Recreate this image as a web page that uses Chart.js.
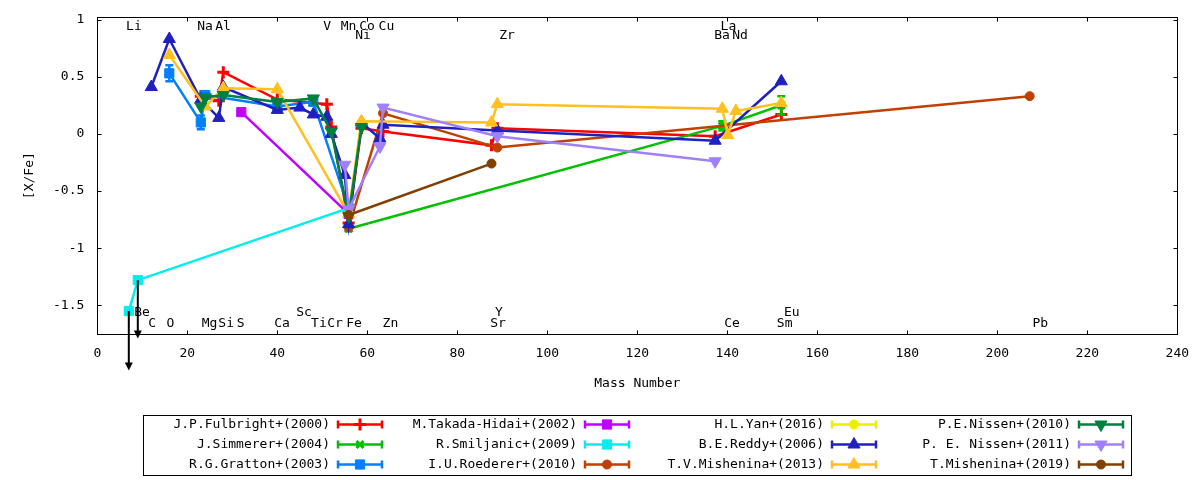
<!DOCTYPE html>
<html>
<head>
<meta charset="utf-8">
<script src="https://cdn.jsdelivr.net/npm/chart.js@4.4.1/dist/chart.umd.min.js"></script>
<style>
  html, body { margin: 0; padding: 0; background: #fff; }
  #wrap { width: 1200px; height: 480px; }
</style>
</head>
<body>
<div id="wrap"><canvas id="chart" width="1200" height="480"></canvas></div>
<script>
// [X/Fe] against mass number, compiled from several papers
const xTicks = [0, 20, 40, 60, 80, 100, 120, 140, 160, 180, 200, 220, 240]
const yTicks = [-1.5, -1, -0.5, 0, 0.5, 1]

// element labels (gnuplot "set label" style)
const elemNames = ['Li', 'Na', 'Al', 'V', 'Mn', 'Co', 'Cu', 'Ni', 'Zr', 'La', 'Ba', 'Nd',
  'Be', 'C', 'O', 'Mg', 'Si', 'S', 'Ca', 'Sc', 'Ti', 'Cr', 'Fe', 'Zn', 'Y', 'Sr', 'Ce', 'Eu', 'Sm', 'Pb']
const elemX = [6.4, 22.2, 26.2, 50.2, 54.1, 58.2, 62.5, 57.3, 89.3, 138.5, 137.1, 141.1,
  8.2, 11.3, 15.4, 23.2, 26.9, 31.0, 39.3, 44.2, 47.5, 51.1, 55.3, 63.4, 88.4, 87.3, 139.3, 152.6, 151.0, 207.8]
const elemY = [0.94, 0.94, 0.94, 0.94, 0.94, 0.94, 0.94, 0.86, 0.86, 0.94, 0.86, 0.86,
  -1.56, -1.66, -1.66, -1.66, -1.66, -1.66, -1.66, -1.56, -1.66, -1.66, -1.66, -1.66, -1.56, -1.66, -1.66, -1.56, -1.66, -1.66]

// upper limits (Li, Be)
const limitX = [7, 9]
const limitFrom = [-1.55, -1.28]
const limitTo = [-2.07, -1.79]

const fulbrightX = [23, 27, 28, 40, 51, 52, 55.85, 58.7, 63.5, 87.6, 88.9, 137.3, 152]
const fulbrightY = [0.33, 0.29, 0.54, 0.30, 0.26, 0.06, -0.78, 0.05, 0.02, -0.10, 0.05, -0.02, 0.17]

const simmererX = [55.85, 138.9, 152]
const simmererY = [-0.83, 0.07, 0.25]
const simmererErr = [0.02, 0.04, 0.08]

const grattonX = [16, 23, 24, 40, 48, 55.85]
const grattonY = [0.53, 0.10, 0.34, 0.24, 0.28, -0.65]
const grattonErr = [0.07, 0.06, 0.03, 0.02, 0.03, 0.02]

const takadaX = [32, 55.85]
const takadaY = [0.19, -0.70]

const smiljanicX = [7, 9, 55.85]
const smiljanicY = [-1.55, -1.28, -0.65]

const roedererX = [55.85, 63.5, 88.9, 207.2]
const roedererY = [-0.82, 0.18, -0.12, 0.33]

const yanX = [55.85, 58.7]
const yanY = [-0.70, 0.10]

const reddyX = [12, 16, 23, 27, 28, 40, 45, 48, 51, 52, 55, 55.85, 58.7, 62.8, 63.5, 88.9, 137.3, 152]
const reddyY = [0.41, 0.83, 0.30, 0.14, 0.41, 0.21, 0.23, 0.17, 0.15, 0.00, -0.36, -0.79, 0.10, -0.04, 0.08, 0.03, -0.06, 0.46]

const mish13X = [16, 24, 28, 40, 55.85, 58.7, 87.6, 88.9, 138.9, 140.1, 141.9, 152]
const mish13Y = [0.69, 0.24, 0.40, 0.39, -0.70, 0.11, 0.10, 0.26, 0.22, -0.01, 0.20, 0.27]

const nissen10X = [23, 24, 28, 40, 48, 52, 55.85, 58.7]
const nissen10Y = [0.24, 0.32, 0.34, 0.28, 0.31, 0.02, -0.72, 0.06]

const nissen11X = [55, 55.85, 62.8, 63.5, 88.9, 137.3]
const nissen11Y = [-0.27, -0.66, -0.11, 0.23, -0.02, -0.24]

const mish19X = [55.85, 87.6]
const mish19Y = [-0.71, -0.26]

const FONT = '13px "DejaVu Sans Mono"'

// legend is column-major, same order as gnuplot
const series = [
  { label: 'J.P.Fulbright+(2000)', color: '#ff0000', style: 'cross', r: 6, bw: 3, x: fulbrightX, y: fulbrightY },
  { label: 'J.Simmerer+(2004)', color: '#00c000', style: 'crossRot', r: 5, bw: 3, x: simmererX, y: simmererY, err: simmererErr },
  { label: 'R.G.Gratton+(2003)', color: '#0080ff', style: 'rect', r: 6.5, bw: 1, x: grattonX, y: grattonY, err: grattonErr },
  { label: 'M.Takada-Hidai+(2002)', color: '#c000ff', style: 'rect', r: 6.5, bw: 1, x: takadaX, y: takadaY },
  { label: 'R.Smiljanic+(2009)', color: '#00eeee', style: 'rect', r: 6.5, bw: 1, x: smiljanicX, y: smiljanicY },
  { label: 'I.U.Roederer+(2010)', color: '#c04000', style: 'circle', r: 4.5, bw: 1, x: roedererX, y: roedererY },
  { label: 'H.L.Yan+(2016)', color: '#eeee00', style: 'circle', r: 4.5, bw: 1, x: yanX, y: yanY },
  { label: 'B.E.Reddy+(2006)', color: '#2020c0', style: 'triangle', r: 7, bw: 1, x: reddyX, y: reddyY },
  { label: 'T.V.Mishenina+(2013)', color: '#ffc020', style: 'triangle', r: 7, bw: 1, x: mish13X, y: mish13Y },
  { label: 'P.E.Nissen+(2010)', color: '#008040', style: 'triangle', r: 7, bw: 1, rot: 180, x: nissen10X, y: nissen10Y },
  { label: 'P. E. Nissen+(2011)', color: '#a080ff', style: 'triangle', r: 7, bw: 1, rot: 180, x: nissen11X, y: nissen11Y },
  { label: 'T.Mishenina+(2019)', color: '#804000', style: 'circle', r: 4.5, bw: 1, x: mish19X, y: mish19Y },
]

const datasets = series.map((s, i) => ({
  label: s.label,
  data: s.x.map((v, j) => ({ x: v, y: s.y[j] })),
  showLine: true,
  borderColor: s.color,
  backgroundColor: s.color,
  borderWidth: 2.5,
  pointStyle: s.style,
  pointRadius: s.r,
  pointRotation: s.rot || 0,
  pointBorderWidth: s.bw,
  pointBorderColor: s.color,
  pointBackgroundColor: s.color,
  order: series.length - 1 - i,
}))

function drawMarker(ctx, s, px, py) {
  ctx.fillStyle = s.color
  ctx.strokeStyle = s.color
  ctx.lineWidth = s.bw
  Chart.helpers.drawPoint(ctx, { pointStyle: s.style, radius: s.r, rotation: s.rot || 0, borderWidth: s.bw }, px, py)
}

const decor = {
  id: 'decor',
  beforeDatasetsDraw(chart) {
    const { ctx, scales: { x, y } } = chart
    ctx.save()
    ctx.font = FONT
    ctx.fillStyle = '#000'
    ctx.textAlign = 'left'
    ctx.textBaseline = 'middle'
    elemNames.forEach((n, i) => ctx.fillText(n, x.getPixelForValue(elemX[i]), y.getPixelForValue(elemY[i])))
    ctx.restore()
  },
  beforeDatasetDraw(chart, args) {
    const s = series[args.index]
    if (!s || !s.err) return
    const { ctx, scales: { x, y } } = chart
    ctx.save()
    ctx.strokeStyle = s.color
    ctx.lineWidth = 2.5
    s.x.forEach((v, j) => {
      const px = x.getPixelForValue(v)
      const y1 = y.getPixelForValue(s.y[j] - s.err[j])
      const y2 = y.getPixelForValue(s.y[j] + s.err[j])
      ctx.beginPath()
      ctx.moveTo(px, y1); ctx.lineTo(px, y2)
      ctx.moveTo(px - 4, y1); ctx.lineTo(px + 4, y1)
      ctx.moveTo(px - 4, y2); ctx.lineTo(px + 4, y2)
      ctx.stroke()
    })
    ctx.restore()
  },
  afterDatasetsDraw(chart) {
    const { ctx, chartArea: a, scales: { x, y } } = chart
    ctx.save()
    // border + inward mirrored tics
    ctx.strokeStyle = '#000'
    ctx.lineWidth = 1
    const L = Math.round(a.left) + 0.5, R = Math.round(a.right) + 0.5
    const T = Math.round(a.top) + 0.5, B = Math.round(a.bottom) + 0.5
    ctx.strokeRect(L, T, R - L, B - T)
    ctx.beginPath()
    xTicks.forEach(v => {
      const px = Math.round(x.getPixelForValue(v)) + 0.5
      ctx.moveTo(px, B); ctx.lineTo(px, B - 4)
      ctx.moveTo(px, T); ctx.lineTo(px, T + 4)
    })
    yTicks.forEach(v => {
      const py = Math.round(y.getPixelForValue(v)) + 0.5
      ctx.moveTo(L, py); ctx.lineTo(L + 4, py)
      ctx.moveTo(R, py); ctx.lineTo(R - 4, py)
    })
    ctx.stroke()

    // upper limit arrows
    ctx.fillStyle = '#000'
    ctx.lineWidth = 2
    limitX.forEach((v, i) => {
      const px = x.getPixelForValue(v)
      const y0 = y.getPixelForValue(limitFrom[i])
      const y1 = y.getPixelForValue(limitTo[i])
      ctx.beginPath()
      ctx.moveTo(px, y0); ctx.lineTo(px, y1 - 6)
      ctx.stroke()
      ctx.beginPath()
      ctx.moveTo(px, y1); ctx.lineTo(px - 4, y1 - 8); ctx.lineTo(px + 4, y1 - 8); ctx.closePath()
      ctx.fill()
    })
    ctx.restore()
  },
  afterDraw(chart) {
    const { ctx, chartArea: a } = chart
    ctx.save()
    ctx.font = FONT
    ctx.fillStyle = '#000'
    ctx.textBaseline = 'middle'
    ctx.textAlign = 'center'
    ctx.fillText('Mass Number', (a.left + a.right) / 2, a.bottom + 50)
    ctx.translate(30, (a.top + a.bottom) / 2)
    ctx.rotate(-Math.PI / 2)
    ctx.fillText('[X/Fe]', 0, 0)
    ctx.restore()

    // legend box
    ctx.save()
    ctx.strokeStyle = '#000'
    ctx.lineWidth = 1
    ctx.strokeRect(143.5, 415.5, 988, 60)
    ctx.font = FONT
    ctx.textBaseline = 'middle'
    series.forEach((s, i) => {
      const col = Math.floor(i / 3), row = i % 3
      const x0 = 338 + col * 247
      const yy = 424.5 + row * 20
      ctx.fillStyle = '#000'
      ctx.textAlign = 'right'
      ctx.fillText(s.label, x0 - 8, yy)
      ctx.strokeStyle = s.color
      ctx.lineWidth = 2.5
      ctx.beginPath()
      ctx.moveTo(x0, yy); ctx.lineTo(x0 + 44, yy)
      ctx.moveTo(x0, yy - 4); ctx.lineTo(x0, yy + 4)
      ctx.moveTo(x0 + 44, yy - 4); ctx.lineTo(x0 + 44, yy + 4)
      ctx.stroke()
      drawMarker(ctx, s, x0 + 22, yy)
    })
    ctx.restore()
  },
}

Chart.defaults.font.family = '"DejaVu Sans Mono"'
Chart.defaults.font.size = 13
Chart.defaults.color = '#000'

new Chart(document.getElementById('chart'), {
  type: 'scatter',
  data: { datasets },
  options: {
    responsive: false,
    animation: false,
    layout: { padding: { top: 17.3, right: 22.7, left: 0, bottom: 0 } },
    plugins: { legend: { display: false }, tooltip: { enabled: false } },
    scales: {
      x: {
        type: 'linear', min: 0, max: 240,
        grid: { display: false, drawTicks: false },
        border: { display: false },
        afterBuildTicks: s => { s.ticks = xTicks.map(v => ({ value: v })) },
        afterFit: s => { s.height = 146; s.paddingLeft = 0; s.paddingRight = 0 },
        ticks: { autoSkip: false, maxRotation: 0, padding: 12, callback: v => String(v) },
      },
      y: {
        type: 'linear', min: -1.751, max: 1.02,
        grid: { display: false, drawTicks: false },
        border: { display: false },
        afterBuildTicks: s => { s.ticks = yTicks.map(v => ({ value: v })) },
        afterFit: s => { s.width = 97.3; s.paddingTop = 0; s.paddingBottom = 0 },
        ticks: { autoSkip: false, padding: 13, callback: v => String(v) },
      },
    },
  },
  plugins: [decor],
})
</script>
</body>
</html>
